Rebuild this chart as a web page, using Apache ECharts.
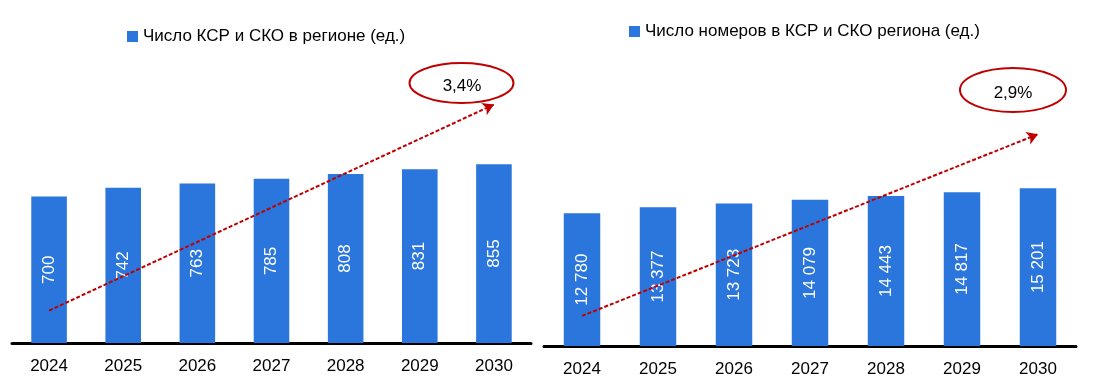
<!DOCTYPE html>
<html>
<head>
<meta charset="utf-8">
<script src="https://cdn.jsdelivr.net/npm/echarts@6/dist/echarts.min.js"></script>
<style>
html,body{margin:0;padding:0;background:#fff;}
#c{width:1094px;height:390px;}
</style>
</head>
<body>
<div id="c"></div>
<script>
// ---- data ----
var categories = ['2024', '2025', '2026', '2027', '2028', '2029', '2030'];
var leftValues = [700, 742, 763, 785, 808, 831, 855];
var rightValues = [12780, 13377, 13723, 14079, 14443, 14817, 15201];
var leftName = 'Число КСР и СКО в регионе (ед.)';
var rightName = 'Число номеров в КСР и СКО региона (ед.)';
var leftTrend = [155, 1140];     // dashed trend arrow start/end values
var rightTrend = [2900, 20400];
var growthLabels = ['3,4%', '2,9%'];

var FONT = '"Liberation Sans Narrow", "Arial Narrow", "Liberation Sans", sans-serif';
var FS = 17;
var BLUE = '#2A76DC';
var RED = '#C00000';

function fmt(v) {
  return String(v).replace(/\B(?=(\d{3})+(?!\d))/g, ' ');
}

function trendLine(trend) {
  return {
    silent: true,
    animation: false,
    symbol: ['none', 'arrow'],
    symbolSize: [10, 11],
    label: { show: false },
    lineStyle: { color: RED, width: 2, type: [4, 2] },
    data: [[
      { coord: [categories[0], trend[0]] },
      { coord: [categories[categories.length - 1], trend[1]] }
    ]]
  };
}

var chart = echarts.init(document.getElementById('c'), null, { renderer: 'canvas' });

var xAxisCommon = {
  type: 'category',
  data: categories,
  axisTick: { show: false },
  axisLine: { lineStyle: { color: '#000', width: 3 } },
  axisLabel: { color: '#000', fontSize: FS, fontFamily: FONT, margin: 15 }
};

var option = {
  animation: false,
  textStyle: { fontFamily: FONT },
  legend: [
    {
      data: [leftName], left: 122, top: 23,
      icon: 'rect', itemWidth: 11, itemHeight: 11, itemGap: 4,
      textStyle: { fontSize: FS, color: '#000', fontFamily: FONT }
    },
    {
      data: [rightName], left: 624, top: 18,
      icon: 'rect', itemWidth: 11, itemHeight: 11, itemGap: 4,
      textStyle: { fontSize: FS, color: '#000', fontFamily: FONT }
    }
  ],
  grid: [
    { left: 12, width: 519, top: 92, bottom: 47 },
    { left: 544, width: 532, top: 128, bottom: 44 }
  ],
  xAxis: [
    Object.assign({ gridIndex: 0 }, xAxisCommon),
    Object.assign({ gridIndex: 1 }, xAxisCommon)
  ],
  yAxis: [
    { gridIndex: 0, type: 'value', min: 0, max: 1200, show: false, splitLine: { show: false } },
    { gridIndex: 1, type: 'value', min: 0, max: 21000, show: false, splitLine: { show: false } }
  ],
  series: [
    {
      name: leftName, type: 'bar', xAxisIndex: 0, yAxisIndex: 0,
      data: leftValues, barWidth: '48%',
      itemStyle: { color: BLUE },
      label: {
        show: true, position: 'inside', rotate: 90, color: '#fff',
        fontSize: FS, fontFamily: FONT, formatter: function (p) { return fmt(p.value); }
      },
      markLine: trendLine(leftTrend)
    },
    {
      name: rightName, type: 'bar', xAxisIndex: 1, yAxisIndex: 1,
      data: rightValues, barWidth: '48%',
      itemStyle: { color: BLUE },
      label: {
        show: true, position: 'inside', rotate: 90, color: '#fff',
        fontSize: FS, fontFamily: FONT, formatter: function (p) { return fmt(p.value); }
      },
      markLine: trendLine(rightTrend)
    }
  ],
  graphic: [
    {
      type: 'ellipse', shape: { cx: 461.5, cy: 83, rx: 52, ry: 20 },
      style: { fill: 'rgba(255,255,255,0)', stroke: RED, lineWidth: 2 }, z: 10
    },
    {
      type: 'text', x: 462, y: 86, z: 11,
      style: { text: growthLabels[0], fill: '#000', font: FS + 'px ' + FONT, textAlign: 'center', textVerticalAlign: 'middle' }
    },
    {
      type: 'ellipse', shape: { cx: 1013, cy: 90, rx: 53, ry: 22 },
      style: { fill: 'rgba(255,255,255,0)', stroke: RED, lineWidth: 2 }, z: 10
    },
    {
      type: 'text', x: 1013, y: 93, z: 11,
      style: { text: growthLabels[1], fill: '#000', font: FS + 'px ' + FONT, textAlign: 'center', textVerticalAlign: 'middle' }
    }
  ]
};

chart.setOption(option);
</script>
</body>
</html>
